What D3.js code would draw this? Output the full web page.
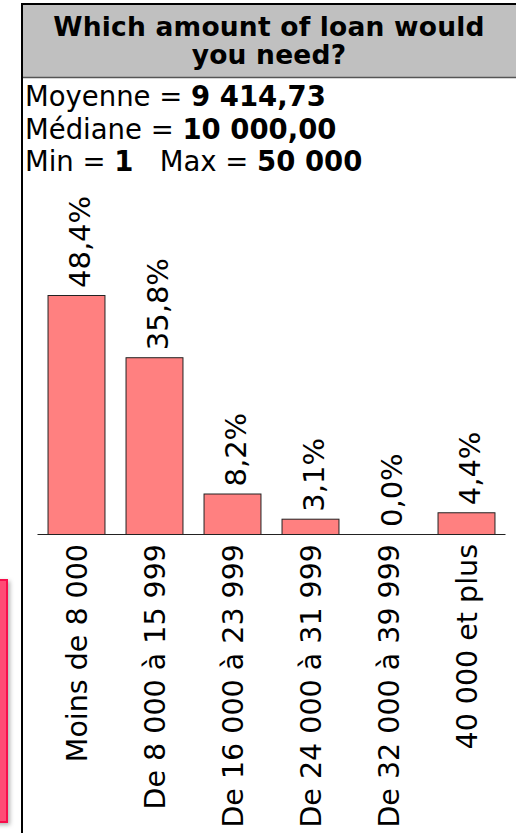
<!DOCTYPE html>
<html>
<head>
<meta charset="utf-8">
<script src="https://cdn.jsdelivr.net/npm/d3@7"></script>
<style>
  html, body { margin: 0; padding: 0; background: #fff; }
  svg { display: block; }
  text { font-family: "DejaVu Sans", Verdana, sans-serif; fill: #000; }
</style>
</head>
<body>
<svg id="chart" width="516" height="833"></svg>
<script>
// Question and summary statistics
const titleLines = ["Which amount of loan would", "you need?"];
const statLines = [
  [{ t: "Moyenne = ", b: false }, { t: "9 414,73", b: true }],
  [{ t: "Médiane = ", b: false }, { t: "10 000,00", b: true }],
  [{ t: "Min = ", b: false }, { t: "1", b: true }, { t: "   Max = ", b: false }, { t: "50 000", b: true }]
];

// Answer categories and share of respondents (%)
const categories = [
  "Moins de 8 000",
  "De 8 000 à 15 999",
  "De 16 000 à 23 999",
  "De 24 000 à 31 999",
  "De 32 000 à 39 999",
  "40 000 et plus"
];
const shares = [48.4, 35.8, 8.2, 3.1, 0.0, 4.4];
const shareLabels = ["48,4%", "35,8%", "8,2%", "3,1%", "0,0%", "4,4%"];

const svg = d3.select("#chart");

const defs = svg.append("defs");
const shadow = defs.append("filter").attr("id", "shadow")
  .attr("x", "-50%").attr("y", "-10%").attr("width", "200%").attr("height", "120%");
shadow.append("feDropShadow").attr("dx", 2).attr("dy", 2)
  .attr("stdDeviation", 2).attr("flood-color", "#000").attr("flood-opacity", 0.3);

// Side tab peeking in at the left edge
svg.append("rect")
  .attr("x", -12).attr("y", 580).attr("width", 19).attr("height", 242)
  .attr("fill", "#ff4c74").attr("stroke", "#f70d4c").attr("stroke-width", 2)
  .attr("filter", "url(#shadow)");

// Header band
svg.append("rect")
  .attr("x", 22).attr("y", 4).attr("width", 500).attr("height", 73)
  .attr("fill", "#c0c0c0");
svg.append("line").attr("x1", 21).attr("x2", 516).attr("y1", 4).attr("y2", 4)
  .attr("stroke", "#000").attr("stroke-width", 2);
svg.append("line").attr("x1", 22).attr("x2", 516).attr("y1", 77.5).attr("y2", 77.5)
  .attr("stroke", "#555").attr("stroke-width", 1.5);
svg.append("line").attr("x1", 22).attr("x2", 22).attr("y1", 3).attr("y2", 833)
  .attr("stroke", "#000").attr("stroke-width", 2);

svg.append("text")
  .attr("text-anchor", "middle")
  .style("font-weight", "bold").style("font-size", "26.5px")
  .style("letter-spacing", "0.2px")
  .selectAll("tspan").data(titleLines).join("tspan")
  .attr("x", 269).attr("y", (d, i) => 36 + i * 28)
  .text(d => d);

// Summary statistics
const stats = svg.append("text").style("font-size", "27.5px").style("white-space", "pre");
statLines.forEach((parts, i) => {
  parts.forEach((p, j) => {
    const ts = stats.append("tspan").text(p.t).style("font-weight", p.b ? "bold" : "normal");
    if (j === 0) ts.attr("x", 25).attr("y", 106 + i * 32.5);
  });
});

// Bar chart
const x = d3.scaleBand().domain(categories).range([37, 505])
  .paddingInner(0.27).paddingOuter(0.135);
const y = d3.scaleLinear().domain([0, d3.max(shares)]).range([534, 295]);

const data = categories.map((c, i) => ({ c, v: shares[i], label: shareLabels[i] }));

svg.append("g").selectAll("rect").data(data).join("rect")
  .attr("x", d => x(d.c) + 0.5)
  .attr("y", d => y(d.v) + 0.5)
  .attr("width", x.bandwidth())
  .attr("height", d => y(0) - y(d.v))
  .attr("fill", "#ff8080")
  .attr("stroke", "#222").attr("stroke-width", 1);

// Category axis
const xAxis = svg.append("g").attr("transform", `translate(0,${y(0)})`)
  .call(d3.axisBottom(x).tickSize(0).tickPadding(0));
xAxis.select(".domain").attr("stroke", "#222").attr("stroke-width", 1.2);
xAxis.selectAll(".tick text")
  .attr("transform", "translate(11,10) rotate(-90)")
  .attr("x", 0).attr("y", 0).attr("dy", 0)
  .attr("text-anchor", "end")
  .style("font-family", '"DejaVu Sans", Verdana, sans-serif')
  .style("font-size", "28.5px").attr("fill", "#000");

// Value labels above bars
svg.append("g").selectAll("text").data(data).join("text")
  .attr("transform", d => `translate(${x(d.c) + x.bandwidth() / 2 + 13.5},${y(d.v) - 7}) rotate(-90)`)
  .attr("text-anchor", "start")
  .style("font-size", "29px")
  .text(d => d.label);
</script>
</body>
</html>
